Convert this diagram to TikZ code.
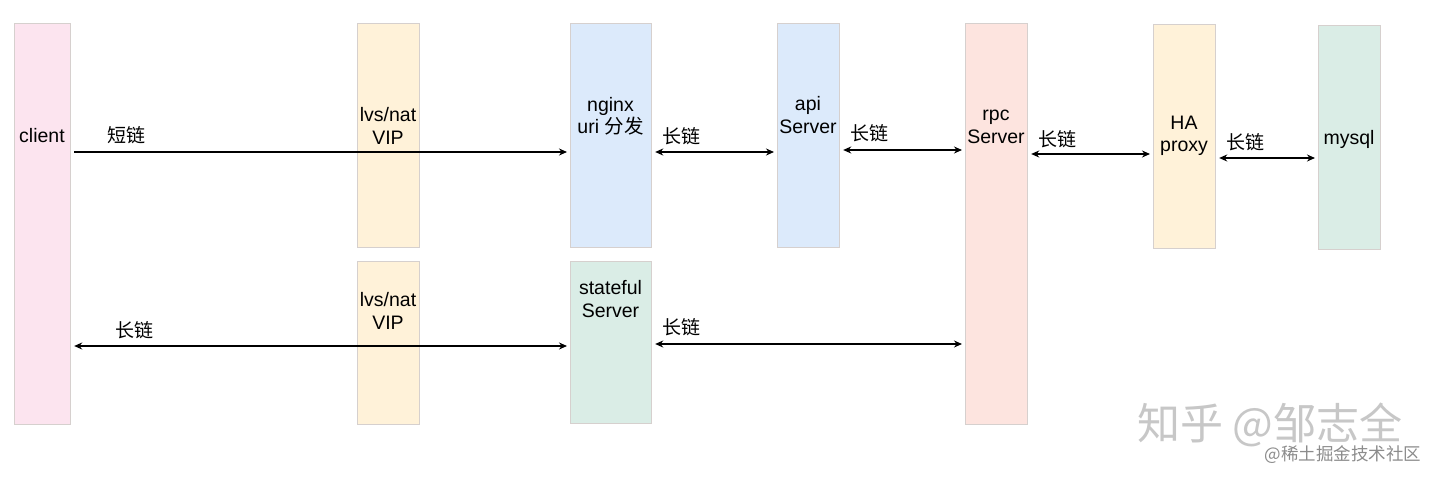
\documentclass[tikz,border=0pt]{standalone}
\usepackage{fontspec}
\setmainfont{Liberation Sans}
\newfontfamily\cjk{Noto Sans CJK SC}
\usetikzlibrary{arrows.meta}
\definecolor{cpink}{HTML}{FCE4EF}
\definecolor{cyel}{HTML}{FFF2D9}
\definecolor{cblue}{HTML}{DCEAFB}
\definecolor{cred}{HTML}{FDE4DF}
\definecolor{cgreen}{HTML}{DAEDE6}
\definecolor{cbord}{HTML}{D6D0CE}
\begin{document}
\begin{tikzpicture}[x=1pt,y=-1pt, font=\fontsize{19.5}{22.5}\selectfont,
 box/.style={draw=cbord, line width=1.2pt, inner sep=0pt, anchor=north west},
 lbl/.style={align=center, inner sep=0pt},
 cn/.style={inner sep=0pt, font=\cjk\fontsize{19}{22}\selectfont},
 link/.style={line width=1.8pt, black, shorten <=3pt, shorten >=3pt},
 tip/.style={-{Stealth[length=8pt,width=7pt]}},
 tips/.style={{Stealth[length=8pt,width=7pt]}-{Stealth[length=8pt,width=7pt]}}]
\useasboundingbox[fill=white] (0,0) rectangle (1440,481);

% boxes
\node[box, fill=cpink, minimum width=56pt, minimum height=401pt] (client) at (14,23) {};
\node[box, fill=cyel, minimum width=62pt, minimum height=224pt] (lvsa) at (357,23) {};
\node[box, fill=cblue, minimum width=81pt, minimum height=224pt] (nginx) at (570,23) {};
\node[box, fill=cblue, minimum width=62pt, minimum height=224pt] (api) at (777,23) {};
\node[box, fill=cred, minimum width=62pt, minimum height=401pt] (rpc) at (965,23) {};
\node[box, fill=cyel, minimum width=62pt, minimum height=224pt] (ha) at (1153,24) {};
\node[box, fill=cgreen, minimum width=62pt, minimum height=224pt] (mysql) at (1318,25) {};
\node[box, fill=cyel, minimum width=62pt, minimum height=163pt] (lvsb) at (357,261) {};
\node[box, fill=cgreen, minimum width=81pt, minimum height=162pt] (stateful) at (570,261) {};

% box texts
\node[lbl] (tclient) at (42,136) {client};
\node[lbl] (tlvsa) at (388,126) {lvs/nat\\VIP};
\node[lbl] (tnginx) at (610.5,116) {nginx\\uri {\cjk 分发}};
\node[lbl] (tapi) at (808,115) {api\\Server};
\node[lbl] (trpc) at (996,127) {rpc\\Server};
\node[lbl] (tha) at (1184,136) {HA\\proxy};
\node[lbl] (tmysql) at (1349,139) {mysql};
\node[lbl] (tlvsb) at (388,311) {lvs/nat\\VIP};
\node[lbl] (tstate) at (610.5,299) {stateful\\Server};

% connector heights
\coordinate (r1) at (0,152);
\coordinate (r2) at (0,150);
\coordinate (r3) at (0,154);
\coordinate (r4) at (0,158);
\coordinate (r5) at (0,346);
\coordinate (r6) at (0,344);

\draw[link,tip] (client.east |- r1) -- (nginx.west |- r1);
\draw[link,tips] (nginx.east |- r1) -- (api.west |- r1);
\draw[link,tips] (api.east |- r2) -- (rpc.west |- r2);
\draw[link,tips] (rpc.east |- r3) -- (ha.west |- r3);
\draw[link,tips] (ha.east |- r4) -- (mysql.west |- r4);
\draw[link,tips] (client.east |- r5) -- (stateful.west |- r5);
\draw[link,tips] (stateful.east |- r6) -- (rpc.west |- r6);

% connector labels
\node[cn] (l1) at (126,135) {短链};
\node[cn] (l2) at (681,136) {长链};
\node[cn] (l3) at (869,133) {长链};
\node[cn] (l4) at (1057,139) {长链};
\node[cn] (l5) at (1245,142) {长链};
\node[cn] (l6) at (134,330) {长链};
\node[cn] (l7) at (681,327) {长链};

% watermark
\node[inner sep=0pt, text=black!22, font=\cjk\fontsize{43}{43}\selectfont] (wm) at (1270,425) {知乎 @邹志全};
\node[inner sep=0pt, text=black!45, font=\cjk\fontsize{17.5}{17.5}\selectfont] (wm2) at (1343,455) {@稀土掘金技术社区};
\end{tikzpicture}
\end{document}
